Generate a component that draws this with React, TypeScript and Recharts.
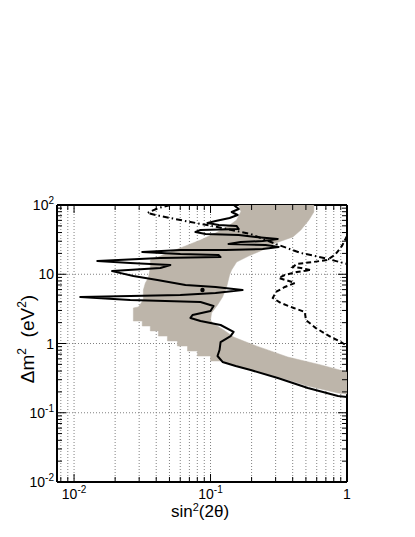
import React from 'react';
import { ComposedChart, Scatter, XAxis, YAxis, ReferenceLine } from 'recharts';

// axis ticks: every minor step, decades get labels
const xTicks = [0.008, 0.009, 0.01, 0.02, 0.03, 0.04, 0.05, 0.06, 0.07, 0.08, 0.09, 0.1, 0.2, 0.3, 0.4, 0.5, 0.6, 0.7, 0.8, 0.9, 1];
const yTicks = [
  0.01, 0.02, 0.03, 0.04, 0.05, 0.06, 0.07, 0.08, 0.09,
  0.1, 0.2, 0.3, 0.4, 0.5, 0.6, 0.7, 0.8, 0.9,
  1, 2, 3, 4, 5, 6, 7, 8, 9,
  10, 20, 30, 40, 50, 60, 70, 80, 90, 100,
];
const xDecades = [0.01, 0.1, 1];
const xTickLabels = ['10^-2', '10^-1', '1'];
const yDecades = [0.01, 0.1, 1, 10, 100];
const yTickLabels = ['10^-2', '10^-1', '1', '10', '10^2'];

// allowed region (shaded band)
const bandRegion = [
  { x: 0.1607, y: 100 }, { x: 0.5715, y: 100 }, { x: 0.5715, y: 79.2 }, { x: 0.526, y: 60.7 },
  { x: 0.459, y: 43.5 }, { x: 0.401, y: 34.5 }, { x: 0.3006, y: 28.3 }, { x: 0.241, y: 22.4 },
  { x: 0.19, y: 18.3 }, { x: 0.1553, y: 15.0 }, { x: 0.1426, y: 11.5 }, { x: 0.1379, y: 9.76 },
  { x: 0.1312, y: 6.55 }, { x: 0.1225, y: 4.69 }, { x: 0.1125, y: 3.59 }, { x: 0.1017, y: 2.76 },
  { x: 0.1, y: 2.18 }, { x: 0.1035, y: 1.98 }, { x: 0.1247, y: 1.57 }, { x: 0.1476, y: 1.24 },
  { x: 0.207, y: 0.951 }, { x: 0.368, y: 0.638 }, { x: 0.644, y: 0.49 }, { x: 1.0, y: 0.388 },
  { x: 1.0, y: 0.187 }, { x: 0.859, y: 0.193 }, { x: 0.517, y: 0.243 }, { x: 0.311, y: 0.328 },
  { x: 0.1968, y: 0.414 }, { x: 0.1528, y: 0.473 }, { x: 0.1185, y: 0.559 }, { x: 0.1, y: 0.559 },
  { x: 0.1, y: 0.66 }, { x: 0.0802, y: 0.66 }, { x: 0.0802, y: 0.779 }, { x: 0.0678, y: 0.779 },
  { x: 0.0678, y: 0.92 }, { x: 0.0572, y: 0.92 }, { x: 0.0572, y: 1.09 }, { x: 0.0483, y: 1.09 },
  { x: 0.0483, y: 1.28 }, { x: 0.0415, y: 1.28 }, { x: 0.0415, y: 1.52 }, { x: 0.0362, y: 1.52 },
  { x: 0.0362, y: 1.79 }, { x: 0.0316, y: 1.79 }, { x: 0.0316, y: 2.11 }, { x: 0.0272, y: 2.11 },
  { x: 0.0272, y: 3.26 }, { x: 0.0296, y: 3.37 }, { x: 0.0322, y: 4.25 }, { x: 0.0322, y: 5.92 },
  { x: 0.0333, y: 7.48 }, { x: 0.035, y: 8.83 }, { x: 0.0362, y: 12.3 }, { x: 0.0362, y: 16.1 },
  { x: 0.0429, y: 18.3 }, { x: 0.0508, y: 21.0 }, { x: 0.0655, y: 25.6 }, { x: 0.0844, y: 31.2 },
  { x: 0.1089, y: 39.4 }, { x: 0.1355, y: 49.8 }, { x: 0.1553, y: 60.7 }, { x: 0.1663, y: 79.2 },
];

// solid contour
const solidContour = [
  { x: 0.148, y: 100 }, { x: 0.161, y: 87.5 }, { x: 0.143, y: 79.2 }, { x: 0.158, y: 71.7 },
  { x: 0.138, y: 64.9 }, { x: 0.109, y: 58.7 }, { x: 0.095, y: 55.0 }, { x: 0.115, y: 51.4 },
  { x: 0.155, y: 49.8 }, { x: 0.161, y: 45.0 }, { x: 0.0844, y: 43.5 }, { x: 0.0776, y: 40.7 },
  { x: 0.0919, y: 38.1 }, { x: 0.161, y: 36.9 }, { x: 0.214, y: 34.5 }, { x: 0.311, y: 32.3 },
  { x: 0.241, y: 30.2 }, { x: 0.166, y: 29.2 }, { x: 0.1355, y: 27.3 }, { x: 0.2535, y: 26.4 },
  { x: 0.316, y: 24.8 }, { x: 0.241, y: 23.2 }, { x: 0.129, y: 22.4 }, { x: 0.0601, y: 22.4 },
  { x: 0.0316, y: 21.0 }, { x: 0.0601, y: 19.6 }, { x: 0.1145, y: 19.0 }, { x: 0.1185, y: 17.7 },
  { x: 0.0429, y: 17.2 }, { x: 0.0148, y: 15.5 }, { x: 0.0258, y: 14.5 }, { x: 0.0508, y: 13.6 },
  { x: 0.0429, y: 12.3 }, { x: 0.019, y: 11.1 }, { x: 0.0272, y: 9.44 }, { x: 0.0408, y: 8.26 },
  { x: 0.0655, y: 7.0 }, { x: 0.1089, y: 6.55 }, { x: 0.1718, y: 5.92 }, { x: 0.1089, y: 5.36 },
  { x: 0.0601, y: 5.02 }, { x: 0.0111, y: 4.69 }, { x: 0.0258, y: 4.25 }, { x: 0.0844, y: 3.97 },
  { x: 0.1052, y: 3.48 }, { x: 0.1, y: 2.95 }, { x: 0.0738, y: 2.58 }, { x: 0.0713, y: 2.34 },
  { x: 0.0844, y: 2.11 }, { x: 0.1185, y: 1.85 }, { x: 0.1476, y: 1.47 }, { x: 0.1403, y: 1.28 },
  { x: 0.1185, y: 1.05 }, { x: 0.1164, y: 0.805 }, { x: 0.1125, y: 0.66 }, { x: 0.1225, y: 0.541 },
  { x: 0.1528, y: 0.473 }, { x: 0.1968, y: 0.414 }, { x: 0.311, y: 0.318 }, { x: 0.517, y: 0.228 },
  { x: 0.667, y: 0.1995 }, { x: 0.859, y: 0.175 }, { x: 1.0, y: 0.169 },
];

// dashed contour
const dashedContour = [
  { x: 1.0, y: 35.7 }, { x: 0.918, y: 25.6 }, { x: 0.817, y: 19.0 }, { x: 0.713, y: 16.1 },
  { x: 0.562, y: 15.0 }, { x: 0.429, y: 14.1 }, { x: 0.401, y: 12.7 }, { x: 0.459, y: 12.3 },
  { x: 0.543, y: 11.5 }, { x: 0.429, y: 10.8 }, { x: 0.35, y: 9.76 }, { x: 0.316, y: 8.83 },
  { x: 0.375, y: 7.99 }, { x: 0.415, y: 7.48 }, { x: 0.35, y: 6.55 }, { x: 0.301, y: 5.54 },
  { x: 0.286, y: 4.54 }, { x: 0.327, y: 3.84 }, { x: 0.407, y: 3.26 }, { x: 0.491, y: 2.85 },
  { x: 0.5, y: 2.18 }, { x: 0.591, y: 1.67 }, { x: 0.762, y: 1.24 }, { x: 0.904, y: 1.05 },
  { x: 1.0, y: 0.92 },
];

// dash-dot contour
const dashDotContour = [
  { x: 0.0508, y: 100 }, { x: 0.0415, y: 90.5 }, { x: 0.0344, y: 76.6 }, { x: 0.0429, y: 69.3 },
  { x: 0.0713, y: 56.8 }, { x: 0.1125, y: 48.1 }, { x: 0.1968, y: 38.1 }, { x: 0.316, y: 26.4 },
  { x: 0.459, y: 20.3 }, { x: 0.678, y: 17.2 }, { x: 1.0, y: 14.1 },
];

const bestFit = [{ x: 0.0873, y: 5.92 }];

const font = '"Liberation Sans", Arial, Helvetica, sans-serif';
const frame = { stroke: '#000', strokeWidth: 2 };

function TickLabel({ x, y, text, anchor }: { x: number; y: number; text: string; anchor: 'start' | 'middle' | 'end' }) {
  const [base, exp] = text.split('^');
  return (
    <text x={x} y={y} textAnchor={anchor} fontFamily={font} fontSize={14} fill="#000">
      {base}
      {exp ? <tspan dy={-6} fontSize={10}>{exp}</tspan> : null}
    </text>
  );
}

const LeftTick = (props: any) => {
  const { x, y, payload } = props;
  const i = yDecades.indexOf(payload.value);
  return (
    <g>
      <line x1={x} y1={y} x2={x + (i >= 0 ? 9 : 5)} y2={y} stroke="#000" />
      {i >= 0 && <TickLabel x={x - 3} y={y + 5} text={yTickLabels[i]} anchor="end" />}
    </g>
  );
};

const RightTick = (props: any) => {
  const { x, y, payload } = props;
  const major = yDecades.includes(payload.value);
  return <line x1={x} y1={y} x2={x - (major ? 9 : 5)} y2={y} stroke="#000" />;
};

const BottomTick = (props: any) => {
  const { x, y, payload } = props;
  const i = xDecades.indexOf(payload.value);
  return (
    <g>
      <line x1={x} y1={y} x2={x} y2={y - (i >= 0 ? 8 : 5)} stroke="#000" />
      {i >= 0 && <TickLabel x={x} y={y + 17} text={xTickLabels[i]} anchor="middle" />}
    </g>
  );
};

const TopTick = (props: any) => {
  const { x, y, payload } = props;
  const major = xDecades.includes(payload.value);
  return <line x1={x} y1={y} x2={x} y2={y + (major ? 8 : 5)} stroke="#000" />;
};

const noPoint = () => <g />;

export default function App() {
  return (
    <div style={{ position: 'absolute', left: 0, top: 0, width: 415, height: 537, background: '#fff' }}>
      <ComposedChart width={415} height={537} margin={{ top: 195, right: 58, bottom: 25, left: 7 }}>
        <XAxis xAxisId="b" orientation="bottom" type="number" dataKey="x" scale="log" domain={[0.0075, 1]}
          allowDataOverflow ticks={xTicks} interval={0} tickSize={0} tickMargin={0} tickLine={false}
          axisLine={frame} tick={BottomTick} height={30} />
        <XAxis xAxisId="t" orientation="top" type="number" dataKey="x" scale="log" domain={[0.0075, 1]}
          allowDataOverflow ticks={xTicks} interval={0} tickSize={0} tickMargin={0} tickLine={false}
          axisLine={frame} tick={TopTick} height={10} />
        <YAxis yAxisId="l" orientation="left" type="number" dataKey="y" scale="log" domain={[0.01, 100]}
          allowDataOverflow ticks={yTicks} interval={0} tickSize={0} tickMargin={0} tickLine={false}
          axisLine={frame} tick={LeftTick} width={50} />
        <YAxis yAxisId="r" orientation="right" type="number" dataKey="y" scale="log" domain={[0.01, 100]}
          allowDataOverflow ticks={yTicks} interval={0} tickSize={0} tickMargin={0} tickLine={false}
          axisLine={frame} tick={RightTick} width={10} />

        <Scatter xAxisId="b" yAxisId="l" data={bandRegion} shape={noPoint} isAnimationActive={false}
          line={{ fill: '#bdb5aa', stroke: '#bdb5aa', strokeWidth: 0.5 }} />

        {xTicks.filter((v) => v < 1).map((v) => (
          <ReferenceLine key={'gx' + v} xAxisId="b" yAxisId="l" x={v} stroke="#808080" strokeDasharray="1 2" />
        ))}
        {yDecades.filter((v) => v > 0.01 && v < 100).map((v) => (
          <ReferenceLine key={'gy' + v} xAxisId="b" yAxisId="l" y={v} stroke="#808080" strokeDasharray="1 2" />
        ))}

        <Scatter xAxisId="b" yAxisId="l" data={dashDotContour} shape={noPoint} isAnimationActive={false}
          line={{ stroke: '#000', strokeWidth: 2, strokeDasharray: '6 3 1.5 3' }} />
        <Scatter xAxisId="b" yAxisId="l" data={dashedContour} shape={noPoint} isAnimationActive={false}
          line={{ stroke: '#000', strokeWidth: 2, strokeDasharray: '5 3' }} />
        <Scatter xAxisId="b" yAxisId="l" data={solidContour} shape={noPoint} isAnimationActive={false}
          line={{ stroke: '#000', strokeWidth: 2, strokeLinejoin: 'round' }} />
        <Scatter xAxisId="b" yAxisId="l" data={bestFit} isAnimationActive={false}
          shape={(p: any) => <circle cx={p.cx} cy={p.cy} r={2.2} fill="#000" />} />
      </ComposedChart>

      <svg width={415} height={537} style={{ position: 'absolute', left: 0, top: 0, pointerEvents: 'none' }}>
        <text x={200} y={517} textAnchor="middle" fontFamily={font} fontSize={17} fill="#000">
          sin<tspan dy={-6} fontSize={11}>2</tspan><tspan dy={6}>(2θ)</tspan>
        </text>
        <text x={34} y={339} transform="rotate(-90 34 339)" textAnchor="middle" fontFamily={font} fontSize={19} fill="#000">
          Δm<tspan dy={-8} fontSize={12}>2</tspan><tspan dy={8}>{'\u00A0\u00A0(eV'}</tspan>
          <tspan dy={-8} fontSize={12}>2</tspan><tspan dy={8}>)</tspan>
        </text>
      </svg>
    </div>
  );
}
